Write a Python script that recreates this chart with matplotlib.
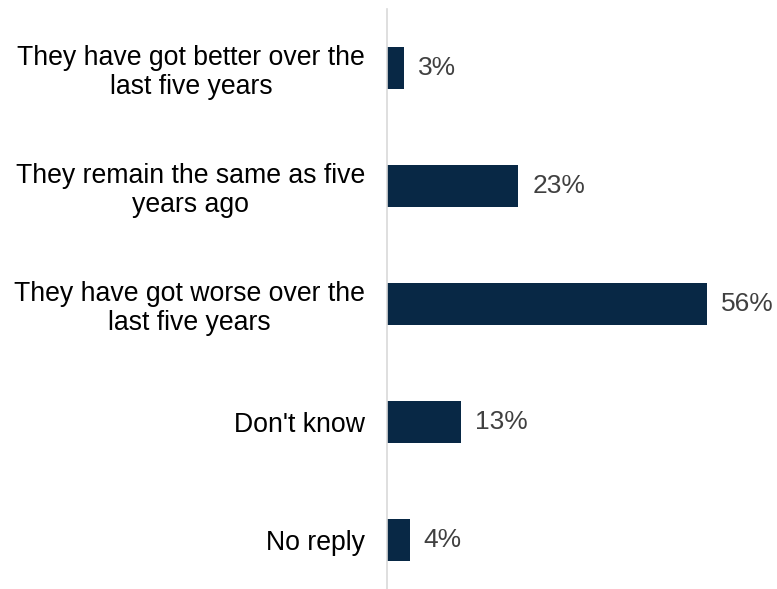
import matplotlib.pyplot as plt

categories = [
    "They have got better over the\nlast five years",
    "They remain the same as five\nyears ago",
    "They have got worse over the\nlast five years",
    "Don't know",
    "No reply",
]
values = [3, 23, 56, 13, 4]

plt.rcParams["font.family"] = ["Liberation Sans", "DejaVu Sans"]

W, H = 777, 589
fig = plt.figure(figsize=(W / 100, H / 100), dpi=100)
# axes placed in pixel terms: left edge of bars at x=387
ax = fig.add_axes([387 / W, 0, 343 / W, 580 / H])

y = list(range(len(values)))
ax.barh(y, values, height=0.36, color="#082845")
ax.set_xlim(0, 60)
ax.set_ylim(4.415, -0.5)

for yi, v in zip(y, values):
    ax.text(v + 2.4, yi, f"{v}%", va="center", ha="left", fontsize=19, color="#404040")

ax.set_yticks(y)
ax.set_yticklabels(categories, fontsize=19.2, color="black",
                   multialignment="center", linespacing=1.15)
ax.tick_params(axis="y", length=0, pad=16)
ax.set_xticks([])

for side in ["top", "right", "bottom"]:
    ax.spines[side].set_visible(False)
ax.spines["left"].set_color("#d9d9d9")
ax.spines["left"].set_linewidth(1.2)

fig.savefig("out.png", dpi=100)
